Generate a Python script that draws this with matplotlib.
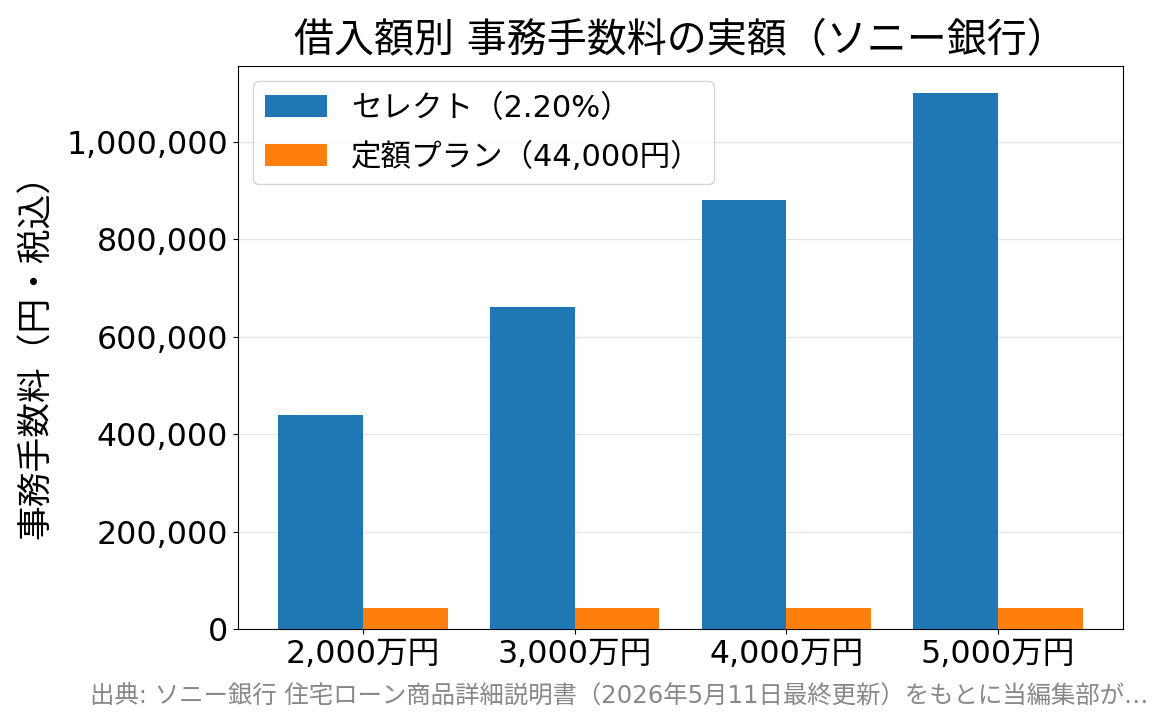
import matplotlib
matplotlib.use("Agg")
import matplotlib.pyplot as plt
import numpy as np

plt.rcParams['font.family'] = ['DejaVu Sans', 'Noto Sans CJK JP']

categories = ["2,000万円", "3,000万円", "4,000万円", "5,000万円"]
select_fee = [440000, 660000, 880000, 1100000]
fixed_fee = [44000, 44000, 44000, 44000]
series_labels = ["セレクト（2.20%）", "定額プラン（44,000円）"]
title = "借入額別 事務手数料の実額（ソニー銀行）"
ylabel = "事務手数料（円・税込）"
footer = "出典: ソニー銀行 住宅ローン商品詳細説明書（2026年5月11日最終更新）をもとに当編集部が…"

fig = plt.figure(figsize=(11.65, 7.25), dpi=100)
ax = fig.add_axes([238/1165, 1-629/725, (1123-238)/1165, (629-66)/725])

x = np.arange(len(categories))
w = 0.4
ax.bar(x - w/2, select_fee, w, color="#1f77b4", label=series_labels[0], zorder=3)
ax.bar(x + w/2, fixed_fee, w, color="#ff7f0e", label=series_labels[1], zorder=3)

ax.set_xticks(x)
ax.set_xticklabels(categories)
ax.yaxis.set_major_formatter(matplotlib.ticker.FuncFormatter(lambda v, p: f"{int(v):,}"))
ax.tick_params(axis='both', labelsize=22.8)
ax.grid(axis='y', color='#e6e6e6', linewidth=1, zorder=0)
ax.set_axisbelow(True)
ax.set_ylabel(ylabel, fontsize=25, labelpad=10)
ax.set_title(title, fontsize=28.8, pad=10)
ax.legend(loc='upper left', fontsize=22, labelspacing=0.62)

fig.text(90/1165, 1-697/725, footer, fontsize=17.6, color='#888888', va='center', ha='left')

fig.savefig("out.png", dpi=100)
